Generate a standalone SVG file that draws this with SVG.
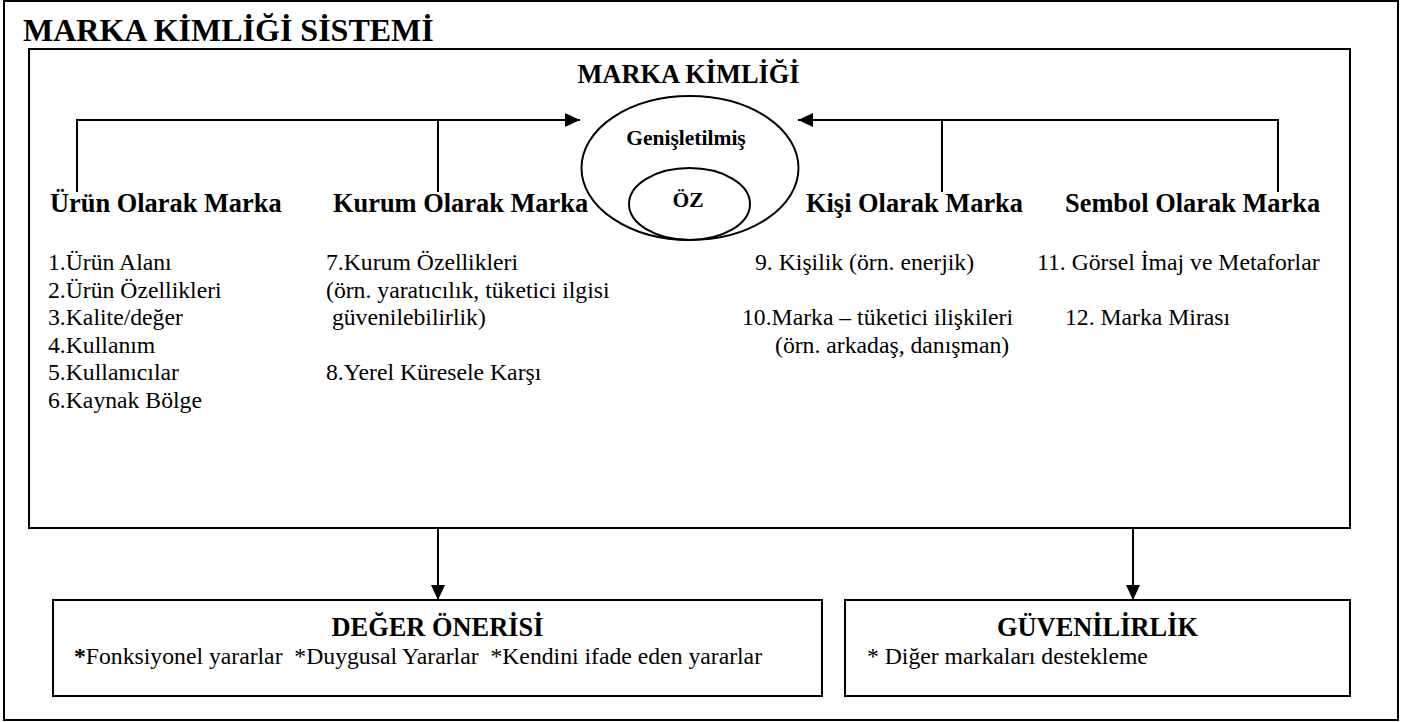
<svg xmlns="http://www.w3.org/2000/svg" width="1407" height="722" viewBox="0 0 1407 722" font-family="'Liberation Serif', 'DejaVu Serif', serif">
  <style>
    .frame { fill: #ffffff; stroke: #000000; stroke-width: 2; }
    .box { fill: none; stroke: #000000; stroke-width: 2; }
    .ring { fill: none; stroke: #000000; stroke-width: 2; }
    .wire { fill: none; stroke: #000000; stroke-width: 2; }
    text { font-family: 'Liberation Serif', 'DejaVu Serif', serif; fill: #000000; }
    .title { font-weight: bold; font-size: 32px; }
    .head { font-weight: bold; font-size: 26.4px; }
    .core { font-weight: bold; font-size: 21.5px; }
    .item { font-size: 23.7px; white-space: pre; }
  </style>
  <defs>
    <marker id="arrow" markerUnits="userSpaceOnUse" markerWidth="15" markerHeight="14" refX="15" refY="7" orient="auto">
      <path d="M0,0 L15,7 L0,14 z" fill="#000"/>
    </marker>
  </defs>

  <rect width="1407" height="722" fill="#ffffff"/>

  <!-- outer frame and system title -->
  <g id="system">
    <rect class="frame" x="4" y="1" width="1394" height="719"/>
    <text class="title" x="23" y="41">MARKA KİMLİĞİ SİSTEMİ</text>
  </g>

  <!-- brand identity panel -->
  <g id="identity">
    <rect class="box" x="29" y="49" width="1321" height="479"/>
    <text class="head" x="688.5" y="83" text-anchor="middle">MARKA KİMLİĞİ</text>
  </g>

  <!-- extended identity with core inside -->
  <g id="extended">
    <ellipse class="ring" cx="690" cy="168" rx="108.5" ry="72"/>
    <text class="core" x="686" y="145" text-anchor="middle">Genişletilmiş</text>
  </g>
  <g id="core">
    <ellipse class="ring" cx="689.5" cy="204" rx="60.5" ry="36"/>
    <text class="core" x="688" y="207" text-anchor="middle">ÖZ</text>
  </g>

  <!-- four perspectives -->
  <g id="product">
    <text class="head" x="50" y="212">Ürün Olarak Marka</text>
    <text class="item" x="48" y="270">1.Ürün Alanı</text>
    <text class="item" x="48" y="297.5">2.Ürün Özellikleri</text>
    <text class="item" x="48" y="325">3.Kalite/değer</text>
    <text class="item" x="48" y="352.5">4.Kullanım</text>
    <text class="item" x="48" y="380">5.Kullanıcılar</text>
    <text class="item" x="48" y="407.5">6.Kaynak Bölge</text>
  </g>

  <g id="organization">
    <text class="head" x="333" y="212">Kurum Olarak Marka</text>
    <text class="item" x="326" y="270">7.Kurum Özellikleri</text>
    <text class="item" x="326" y="297.5">(örn. yaratıcılık, tüketici ilgisi</text>
    <text class="item" x="326" y="325" xml:space="preserve"> güvenilebilirlik)</text>
    <text class="item" x="326" y="380">8.Yerel Küresele Karşı</text>
  </g>

  <g id="person">
    <text class="head" x="806" y="212">Kişi Olarak Marka</text>
    <text class="item" x="755" y="270">9. Kişilik (örn. enerjik)</text>
    <text class="item" x="742" y="325">10.Marka – tüketici ilişkileri</text>
    <text class="item" x="775" y="352.5">(örn. arkadaş, danışman)</text>
  </g>

  <g id="symbol">
    <text class="head" x="1065" y="212">Sembol Olarak Marka</text>
    <text class="item" x="1037" y="270">11. Görsel İmaj ve Metaforlar</text>
    <text class="item" x="1065" y="325">12. Marka Mirası</text>
  </g>

  <!-- outcomes -->
  <g id="value">
    <rect class="box" x="53" y="600" width="769" height="96"/>
    <text class="head" x="437.5" y="636" text-anchor="middle">DEĞER ÖNERİSİ</text>
    <text class="item" x="74" y="664" xml:space="preserve"><tspan font-weight="bold">*</tspan>Fonksiyonel yararlar  *Duygusal Yararlar  *Kendini ifade eden yararlar</text>
  </g>

  <g id="credibility">
    <rect class="box" x="845" y="600" width="505" height="96"/>
    <text class="head" x="1097.5" y="636" text-anchor="middle">GÜVENİLİRLİK</text>
    <text class="item" x="867" y="664" xml:space="preserve">* Diğer markaları destekleme</text>
  </g>

  <!-- connectors -->
  <g id="connectors">
    <path class="wire" d="M77,192 V120 H580" marker-end="url(#arrow)"/>
    <path class="wire" d="M438,192 V120"/>
    <path class="wire" d="M1278,192 V120 H798" marker-end="url(#arrow)"/>
    <path class="wire" d="M942,192 V120"/>
    <path class="wire" d="M438,528 V600" marker-end="url(#arrow)"/>
    <path class="wire" d="M1133,528 V600" marker-end="url(#arrow)"/>
  </g>
</svg>
